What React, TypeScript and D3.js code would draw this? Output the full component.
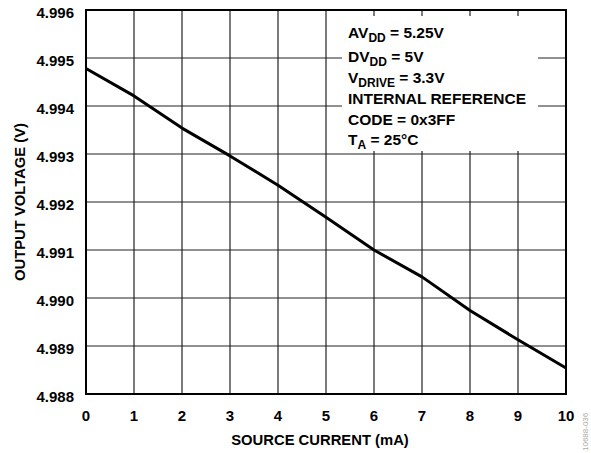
import React from "react";
import * as d3 from "d3";

const currents = [0, 1, 2, 3, 4, 5, 6, 7, 8, 9, 10];
const voltages = [4.99478, 4.99421, 4.99354, 4.99296, 4.99235, 4.99168, 4.991, 4.99044, 4.98974, 4.98913, 4.98854];
const xTicks = [0, 1, 2, 3, 4, 5, 6, 7, 8, 9, 10];
const yTicks = [4.988, 4.989, 4.99, 4.991, 4.992, 4.993, 4.994, 4.995, 4.996];
const legendLines: [string, string, string][] = [
  ["AV", "DD", " = 5.25V"],
  ["DV", "DD", " = 5V"],
  ["V", "DRIVE", " = 3.3V"],
  ["INTERNAL REFERENCE", "", ""],
  ["CODE = 0x3FF", "", ""],
  ["T", "A", " = 25°C"],
];
const legendBaselines = [38, 61.5, 83, 103.5, 124.5, 145];

const W = 591, H = 453;
const L = 86, R = 566, T = 10, B = 394;
const font = "'Liberation Sans', Arial, Helvetica, sans-serif";

export default function App() {
  const x = d3.scaleLinear().domain([0, 10]).range([L, R]);
  const y = d3.scaleLinear().domain([4.988, 4.996]).range([B, T]);
  const line = d3.line<number>().x((_, i) => x(currents[i])).y((d) => y(d));
  const path = line(voltages) || "";

  return (
    <svg width={W} height={H} style={{ position: "absolute", left: 0, top: 0, background: "#fff" }} fontFamily={font} fontWeight="bold">
      <rect x={0} y={0} width={W} height={H} fill="#fff" />
      {xTicks.slice(1, -1).map((t) => (
        <line key={"vx" + t} x1={x(t)} x2={x(t)} y1={T} y2={B} stroke="#222" strokeWidth={1.2} />
      ))}
      {yTicks.slice(1, -1).map((t) => (
        <line key={"hy" + t} x1={L} x2={R} y1={y(t)} y2={y(t)} stroke="#222" strokeWidth={1.2} />
      ))}
      <path d={path} fill="none" stroke="#000" strokeWidth={3} strokeLinejoin="round" />
      <rect x={342} y={16} width={196} height={135} fill="#fff" />
      {legendLines.map((ln, i) => (
        <text key={"lg" + i} x={348} y={legendBaselines[i]} fontSize={15.5} fill="#000">
          <tspan>{ln[0]}</tspan>
          {ln[1] && (
            <tspan fontSize={12} dy={4}>{ln[1]}</tspan>
          )}
          {ln[2] && <tspan dy={-4}>{ln[2]}</tspan>}
        </text>
      ))}
      <rect x={L} y={T} width={R - L} height={B - T} fill="none" stroke="#000" strokeWidth={2} />
      {yTicks.map((t) => (
        <text key={"yl" + t} x={74} y={y(t) + 7.5} textAnchor="end" fontSize={15} fill="#000">
          {d3.format(".3f")(t)}
        </text>
      ))}
      {xTicks.map((t) => (
        <text key={"xl" + t} x={x(t)} y={421} textAnchor="middle" fontSize={15} fill="#000">
          {t}
        </text>
      ))}
      <text x={320} y={445} textAnchor="middle" fontSize={14.8} fill="#000">SOURCE CURRENT (mA)</text>
      <text transform={`translate(25,${(T + B) / 2}) rotate(-90)`} textAnchor="middle" fontSize={14.8} fill="#000">
        OUTPUT VOLTAGE (V)
      </text>
      <text transform={`translate(588,451) rotate(-90)`} textAnchor="start" fontSize={8} fontWeight="normal" fill="#aaa">
        10688-036
      </text>
    </svg>
  );
}
